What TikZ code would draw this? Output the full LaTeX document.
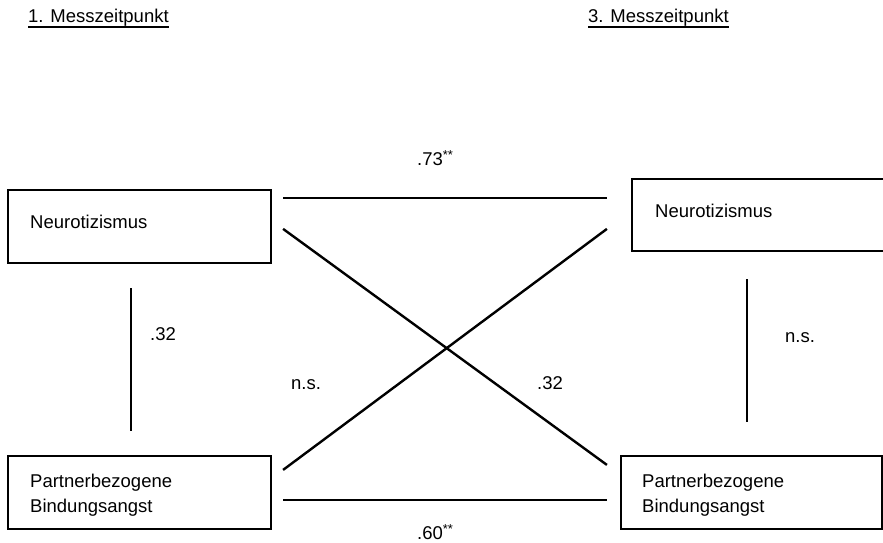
\documentclass[tikz,border=0pt]{standalone}
\usepackage{fontspec}
\setmainfont{Liberation Sans}
\usetikzlibrary{calc}
\newcommand{\sigstars}{\raisebox{5.5pt}{\fontsize{13}{13}\selectfont **}}
\begin{document}
\begin{tikzpicture}[x=1pt,y=-1pt,
  box/.style={draw, line width=2.2pt, inner sep=0pt},
  conn/.style={line width=2.4pt},
  txt/.style={anchor=base west, inner sep=0pt, font=\fontsize{18.5}{25}\selectfont},
  multi/.style={txt, align=left}]
\useasboundingbox (0,0) rectangle (883,542);
% titles
\node[txt] (t1) at (28,22) {1. Messzeitpunkt};
\node[txt] (t3) at (588,22) {3. Messzeitpunkt};
\draw[line width=1.2pt] ($(t1.base west)+(0,5)$) -- ($(t1.base east)+(0,5)$);
\draw[line width=1.2pt] ($(t3.base west)+(0,5)$) -- ($(t3.base east)+(0,5)$);
% boxes
\node[box, minimum width=263pt, minimum height=73pt] (n1) at (139.5,226.5) {};
\node[box, minimum width=263pt, minimum height=72pt] (n2) at (763.5,215) {};
\node[box, minimum width=263pt, minimum height=73pt] (p1) at (139.5,492.5) {};
\node[box, minimum width=261pt, minimum height=73pt] (p2) at (751.5,492.5) {};
% box texts
\node[txt] (n1t) at (30,228) {Neurotizismus};
\node[txt] (n2t) at (655,217) {Neurotizismus};
\node[multi] (p1t) at (30,512) {Partnerbezogene\\Bindungsangst};
\node[multi] (p2t) at (642,512) {Partnerbezogene\\Bindungsangst};
% connectors
\draw[conn] ($(n1.north east)+(11,9)$) -- ($(n2.north west)+(-24,20)$);
\draw[conn] ($(n1.north east)+(11,40)$) -- ($(p2.north west)+(-13,10)$);
\draw[conn] ($(p1.north east)+(11,15)$) -- ($(n2.north west)+(-24,51)$);
\draw[conn] ($(p1.north east)+(11,45)$) -- ($(p2.north west)+(-13,45)$);
\draw[conn] ($(n1.south)+(-8.5,24)$) -- ($(p1.north)+(-8.5,-24)$);
\draw[conn] ($(n2.south)+(-16.5,27)$) -- ($(p2.north)+(-4.5,-33)$);
% labels
\node[txt] (l73) at (417,165) {.73\sigstars};
\node[txt] (l60) at (417,539) {.60\sigstars};
\node[txt] (l32a) at (150,340) {.32};
\node[txt] (lnsr) at (785,342) {n.s.};
\node[txt] (lnsm) at (291,389) {n.s.};
\node[txt] (l32m) at (537,389) {.32};
\end{tikzpicture}
\end{document}
